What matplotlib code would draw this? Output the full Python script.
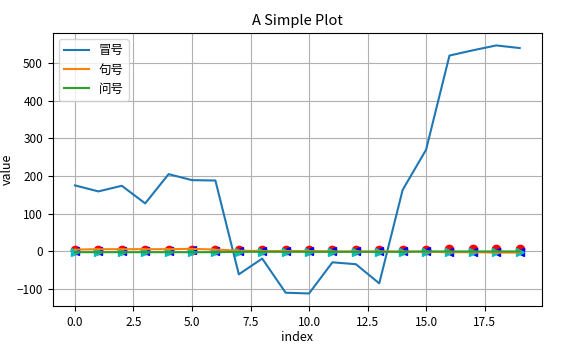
import numpy as np
import matplotlib
matplotlib.use("Agg")
import matplotlib.pyplot as plt

plt.rcParams['font.family'] = ['Noto Sans CJK SC', 'DejaVu Sans']
plt.rcParams['font.size'] = 9

index = np.arange(20)
colon = [175, 159, 174, 127, 205, 189, 188, -62, -20, -111, -113, -30, -35, -86,
         163, 270, 521, 535, 548, 541]
period = [4, 5, 5, 5, 5, 6, 4, 1, 0, 0, 0, -1, -1, -1, -1, -2, -3, -3, -4, -4]
question = [-3, -3, -3, -3, -3, -3, -3, -2, -2, -2, -2, -2, -2, -2, -2, -1, -1, -1, -1, -1]
red_pts = [3, 3, 3, 3, 3, 4, 3, 2, 2, 2, 2, 2, 2, 3, 3, 3, 5, 5, 5, 5]
blue_pts = [0, 0, 0, 0, 0, 2, 0, 0, 0, 0, 0, 0, 0, 0, -1, -1, -2, -2, -2, -2]
cyan_pts = [-3, -3, -3, -3, -3, -3, -3, -3, -3, -3, -3, -3, -3, -3, -3, -3, -3, -3, -3, -3]

fig = plt.figure(figsize=(5.61, 3.59), dpi=100)
ax = fig.add_subplot(111)
fig.subplots_adjust(left=0.094, right=0.966, top=0.908, bottom=0.148)

ax.plot(index, red_pts, "ro")
ax.plot(index, blue_pts, "b<")
ax.plot(index, cyan_pts, "c>")
ax.plot(index, colon, label="冒号")
ax.plot(index, period, label="句号")
ax.plot(index, question, label="问号")

ax.set_title("A Simple Plot", fontsize=10.5)
ax.set_xlabel("index", labelpad=2)
ax.set_ylabel("value", labelpad=2)
ax.tick_params(labelsize=8.5)
ax.grid(True)
ax.legend(loc="upper left", fontsize=9)

fig.savefig("out.png", dpi=100)
